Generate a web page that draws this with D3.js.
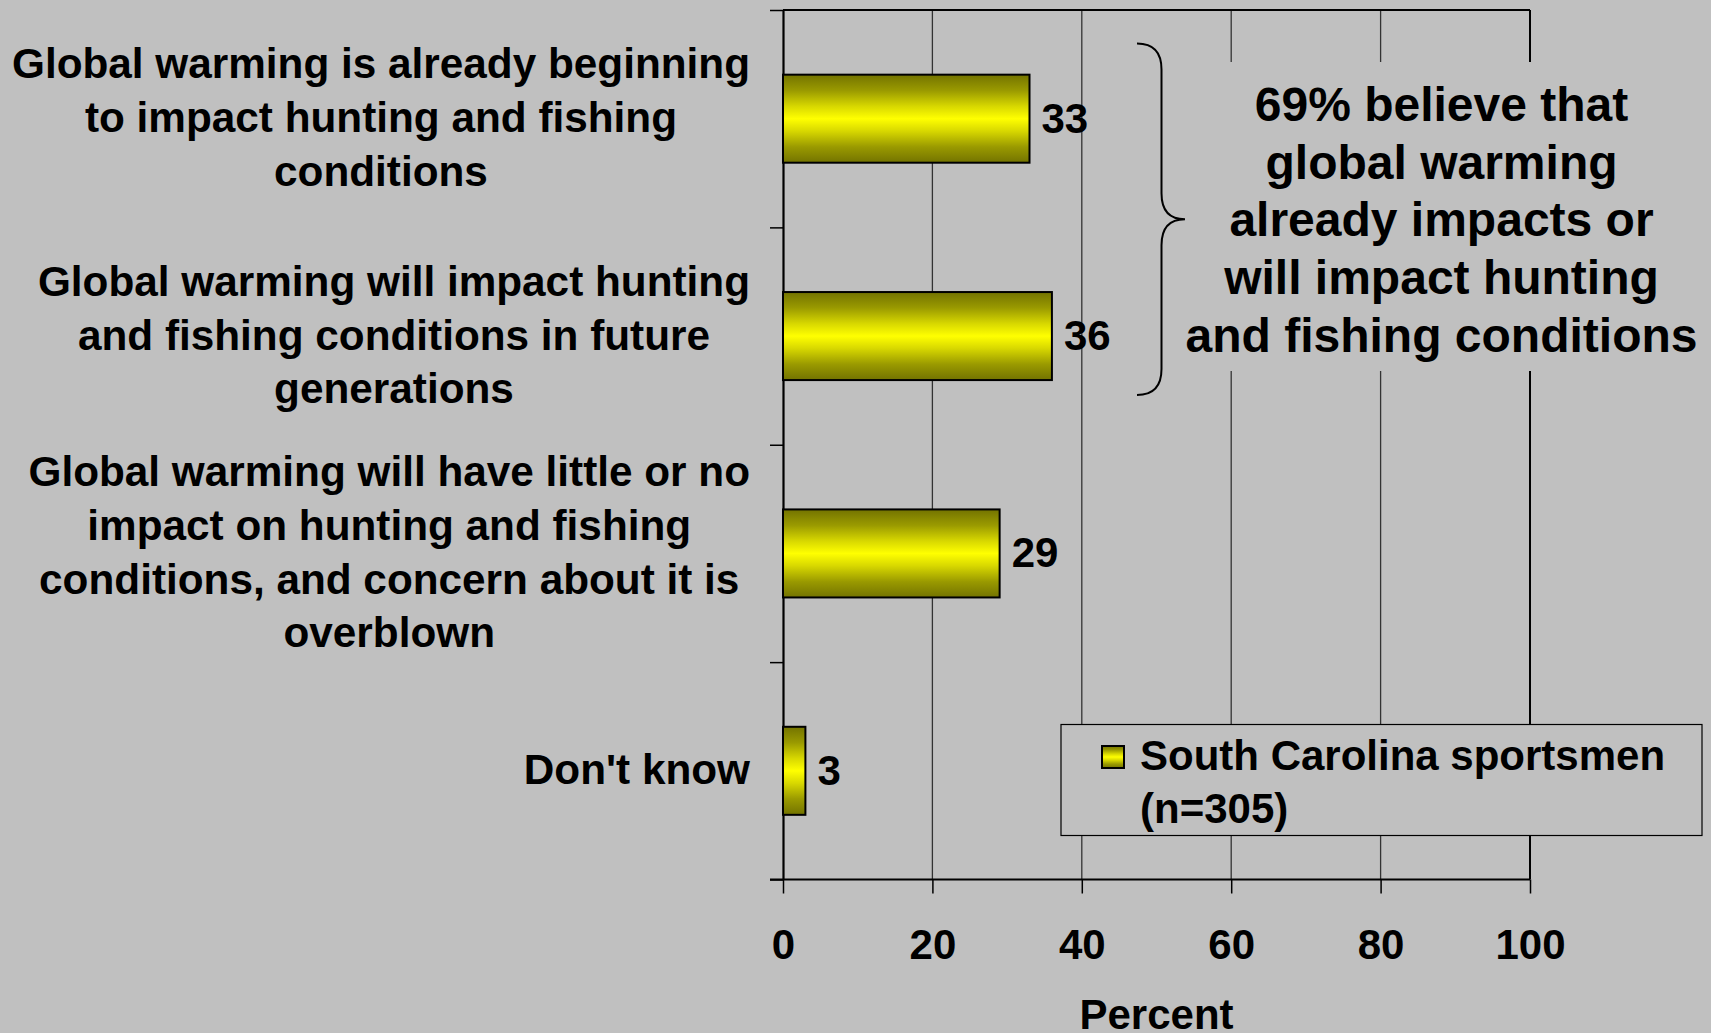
<!DOCTYPE html>
<html><head><meta charset="utf-8">
<script src="https://cdn.jsdelivr.net/npm/d3@7"></script>
<style>
html,body{margin:0;padding:0;background:#c0c0c0;overflow:hidden;}
text{font-family:"Liberation Sans",Arial,sans-serif;font-weight:bold;fill:#000;}
</style></head>
<body>
<svg id="chart" width="1711" height="1033"></svg>
<script>
const categories = [
  ["Global warming is already beginning","to impact hunting and fishing","conditions"],
  ["Global warming will impact hunting","and fishing conditions in future","generations"],
  ["Global warming will have little or no","impact on hunting and fishing","conditions, and concern about it is","overblown"],
  ["Don't know"]
];
const values = [33, 36, 29, 3];
const xTicks = [0, 20, 40, 60, 80, 100];
const seriesName = ["South Carolina sportsmen", "(n=305)"];
const noteLines = ["69% believe that","global warming","already impacts or","will impact hunting","and fishing conditions"];
const axisTitle = "Percent";

(function () {
const svg = d3.select("#chart");
const W = 1711, H = 1033;
svg.append("rect").attr("width", W).attr("height", H).attr("fill", "#c0c0c0");

const pLeft = 783, pRight = 1530, pTop = 10, pBottom = 879.5;
const x = d3.scaleLinear().domain([0, 100]).range([pLeft, pRight]);
const y = d3.scaleBand().domain(d3.range(categories.length)).range([pTop, pBottom]).padding(0);
const yEdge = d3.scaleLinear().domain([0, categories.length]).range([pTop, pBottom]);

const defs = svg.append("defs");
const grad = defs.append("linearGradient").attr("id", "barGrad").attr("x1", 0).attr("y1", 0).attr("x2", 0).attr("y2", 1);
[[0,"#737300"],[0.18,"#9a9a00"],[0.36,"#d8d800"],[0.5,"#ffff00"],[0.64,"#d8d800"],[0.82,"#9a9a00"],[1,"#737300"]]
  .forEach(([o,c]) => grad.append("stop").attr("offset", o).attr("stop-color", c));

// gridlines
svg.append("g").selectAll("line").data(xTicks.filter(d => d > 0 && d < 100)).join("line")
  .attr("x1", d => x(d)).attr("x2", d => x(d)).attr("y1", pTop).attr("y2", pBottom)
  .attr("stroke", "#333").attr("stroke-width", 1.3);

// plot border top & right
svg.append("line").attr("x1", pLeft).attr("x2", pRight).attr("y1", pTop).attr("y2", pTop).attr("stroke", "#000").attr("stroke-width", 2);
svg.append("line").attr("x1", pRight).attr("x2", pRight).attr("y1", pTop).attr("y2", pBottom).attr("stroke", "#000").attr("stroke-width", 2);

// bottom axis
const xAxis = svg.append("g").attr("transform", `translate(0,${pBottom})`)
  .call(d3.axisBottom(x).tickValues(xTicks).tickSize(14).tickSizeOuter(0).tickFormat(d3.format("d")));
xAxis.select(".domain").attr("stroke", "#000").attr("stroke-width", 2.2).attr("d", `M${pLeft - 13},0H${pRight}`);
xAxis.selectAll(".tick line").attr("stroke", "#000").attr("stroke-width", 1.5);
xAxis.selectAll(".tick text").attr("font-size", 42).attr("font-family", "Liberation Sans, Arial, sans-serif")
  .attr("font-weight", "bold").attr("fill", "#000").attr("y", 79).attr("dy", null);

// left axis (category boundaries)
const yAxis = svg.append("g").attr("transform", `translate(${pLeft},0)`)
  .call(d3.axisLeft(yEdge).tickValues(d3.range(categories.length + 1)).tickSize(13).tickSizeOuter(0).tickFormat(""));
yAxis.select(".domain").attr("stroke", "#000").attr("stroke-width", 2.2);
yAxis.selectAll(".tick line").attr("stroke", "#000").attr("stroke-width", 1.5);

// bars
const barH = y.bandwidth() * 0.405;
svg.append("g").selectAll("rect").data(values).join("rect")
  .attr("x", x(0)).attr("y", (d, i) => y(i) + y.bandwidth() / 2 - barH / 2)
  .attr("width", d => x(d) - x(0)).attr("height", barH)
  .attr("fill", "url(#barGrad)").attr("stroke", "#000").attr("stroke-width", 2);

// value labels
svg.append("g").selectAll("text").data(values).join("text")
  .attr("x", d => x(d) + 12).attr("y", (d, i) => y(i) + y.bandwidth() / 2 + 14)
  .attr("font-size", 42).text(d => d);

// category labels
const lineGap = 53.7;
categories.forEach((lines, i) => {
  const g = svg.append("g");
  const cy = y(i) + y.bandwidth() / 2;
  const ts = g.selectAll("text").data(lines).join("text")
    .attr("font-size", 42.3).attr("text-anchor", "middle")
    .attr("y", (d, j) => cy + (j - (lines.length - 1) / 2) * lineGap + 13.5)
    .text(d => d);
  let maxW = 0;
  ts.each(function () { maxW = Math.max(maxW, this.getComputedTextLength()); });
  ts.attr("x", 750 - maxW / 2);
});

// annotation background & text
svg.append("rect").attr("x", 1192).attr("y", 62).attr("width", 519).attr("height", 309).attr("fill", "#c0c0c0");
svg.append("g").selectAll("text").data(noteLines).join("text")
  .attr("x", 1441.5).attr("y", (d, j) => 103.7 + j * 57.8 + 17)
  .attr("text-anchor", "middle").attr("font-size", 48).text(d => d);

// brace
const bx = 1137, bm = 1161.5, bt = 1185, by0 = 43.5, by1 = 395, byc = 219.3, r = 26;
svg.append("path")
  .attr("d", `M${bx},${by0} Q${bm},${by0} ${bm},${by0 + r} L${bm},${byc - r} Q${bm},${byc} ${bt},${byc} Q${bm},${byc} ${bm},${byc + r} L${bm},${by1 - r} Q${bm},${by1} ${bx},${by1}`)
  .attr("fill", "none").attr("stroke", "#000").attr("stroke-width", 2);

// legend
const lg = svg.append("g");
lg.append("rect").attr("x", 1061).attr("y", 724.5).attr("width", 641).attr("height", 111)
  .attr("fill", "#c0c0c0").attr("stroke", "#000").attr("stroke-width", 1.2);
lg.append("rect").attr("x", 1102).attr("y", 746).attr("width", 22).attr("height", 22)
  .attr("fill", "url(#barGrad)").attr("stroke", "#000").attr("stroke-width", 2);
lg.selectAll("text.leg").data(seriesName).join("text").attr("class", "leg")
  .attr("x", 1140).attr("y", (d, j) => 755 + j * 52.5 + 15).attr("font-size", 42).text(d => d);

// axis title
svg.append("text").attr("x", (pLeft + pRight) / 2).attr("y", 1029).attr("text-anchor", "middle")
  .attr("font-size", 42).text(axisTitle);
})();
</script>
</body></html>
